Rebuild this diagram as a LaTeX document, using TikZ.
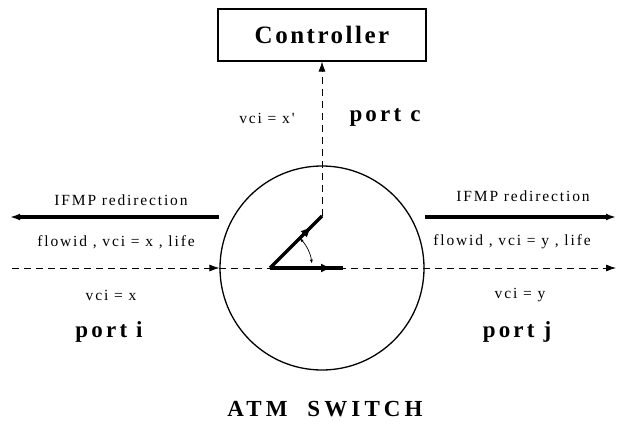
\documentclass[tikz,border=0pt]{standalone}
\usepackage{fontspec}
\setmainfont{Liberation Serif}
\newfontfamily\labfont[LetterSpace=12]{Liberation Serif}
\newfontfamily\boldsp[LetterSpace=10]{Liberation Serif Bold}
\newfontfamily\boldport[LetterSpace=14]{Liberation Serif Bold}
\newfontfamily\boldatm[LetterSpace=18]{Liberation Serif Bold}
\usetikzlibrary{arrows.meta,decorations.markings}
\begin{document}
\begin{tikzpicture}[x=1pt,y=-1pt,
  dashln/.style={dash pattern=on 7pt off 5pt, line width=0.8pt},
  thickln/.style={line width=3.5pt},
  lab/.style={font=\fontsize{15.5}{17}\labfont, inner sep=0},
  port/.style={font=\fontsize{23}{25}\boldport, inner sep=0},
  tipA/.style={-{Latex[length=10pt,width=7pt]}},
  midarrow/.style={postaction={decorate},decoration={markings,mark=at position #1 with {\arrow{Latex[length=11pt,width=9pt]}}}}
]
\useasboundingbox (0,0) rectangle (626,425);
\node[draw, line width=1.2pt, minimum width=208pt, minimum height=52pt, inner sep=0, font=\fontsize{25}{27}\boldsp] (ctrl) at (322,35) {Controller};
\node[circle, draw, line width=1.3pt, minimum size=204pt, inner sep=0] (sw) at (322,268) {};
\coordinate (o) at (270,268);
\coordinate (tip) at (322,216);
\coordinate (htip) at (343,268);
\coordinate (L) at (12,268);
\coordinate (R) at (616,268);
\coordinate (lA) at (219,217);
\coordinate (lB) at (10,217);
\coordinate (rA) at (425,217);
\coordinate (rB) at (616,217);
% dashed flow line
\draw[dashln, tipA] (L) -- (sw.west);
\draw[dashln, tipA] (sw.west) -- (R);
\draw[dashln, tipA] (tip) -- (ctrl.south);
% switch arrows
\draw[thickln, midarrow=0.8] (o) -- (tip);
\draw[thickln, midarrow=0.85] (o) -- (htip);
\draw[line width=0.7pt, {Latex[length=4pt,width=3pt]}-{Latex[length=4pt,width=3pt]}] ([shift={(-45:42)}]o) arc[start angle=-45, end angle=-6, radius=42];
% IFMP redirection arrows
\draw[thickln, tipA] (lA) -- (lB);
\draw[thickln, tipA] (rA) -- (rB);
% labels
\node[lab] (t1) at (121,200) {IFMP redirection};
\node[lab] (t2) at (116,242) {flowid , vci = x , life};
\node[lab] (t3) at (111,295) {vci = x};
\node[port] (pi) at (109,332) {port i};
\node[lab] (t4) at (523,196) {IFMP redirection};
\node[lab] (t5) at (512,242) {flowid , vci = y , life};
\node[lab] (t6) at (520,295) {vci = y};
\node[port] (pj) at (517,332) {port j};
\node[lab] (t7) at (267,118) {vci = x'};
\node[port] (pc) at (385,117) {port c};
\node[font=\fontsize{23}{25}\boldatm, inner sep=0] (atm) at (325,409) {ATM\ \ SWITCH};
\end{tikzpicture}
\end{document}
